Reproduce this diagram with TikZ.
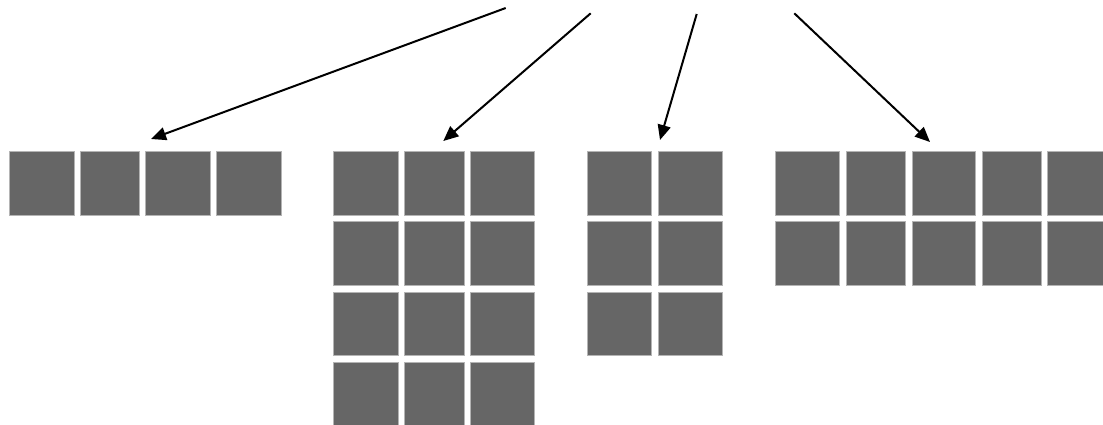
\documentclass[tikz,border=0pt]{standalone}
\usetikzlibrary{arrows.meta}
\definecolor{cellfill}{HTML}{666666}
\definecolor{celledge}{HTML}{B4B4B4}
\newcommand{\mycell}[5]{%
  \node[cellbox, minimum width={#4-#2-0.8}, minimum height={#5-#3-0.8}] (#1) at ({(#2+#4)/2},{(#3+#5)/2}) {};}
\begin{document}
\begin{tikzpicture}[x=1pt,y=-1pt,
  cellbox/.style={draw=celledge, fill=cellfill, line width=0.8pt, inner sep=0pt, outer sep=0pt, rectangle},
  arr/.style={line width=2pt, -{Triangle[length=15pt,width=13pt]}}]
\useasboundingbox (0,0) rectangle (1103,425);
\begin{scope}
\clip (0,0) rectangle (1103,425);
% group A
\mycell{a1}{9.3}{151.3}{74.3}{216}
\mycell{a2}{80}{151.3}{140}{216}
\mycell{a3}{145.3}{151.3}{210.7}{216}
\mycell{a4}{216}{151.3}{281.3}{216}
% group B
\foreach \r/\ya/\yb in {1/151.3/216, 2/221.3/285.7, 3/291.7/356, 4/361.7/427}{
  \mycell{b\r1}{333.3}{\ya}{398.7}{\yb}
  \mycell{b\r2}{404.3}{\ya}{464.3}{\yb}
  \mycell{b\r3}{469.7}{\ya}{534.7}{\yb}
}
% group C
\foreach \r/\ya/\yb in {1/151.3/216, 2/221.3/285.7, 3/291.7/356}{
  \mycell{c\r1}{587.3}{\ya}{652}{\yb}
  \mycell{c\r2}{657.7}{\ya}{722.7}{\yb}
}
% group D
\foreach \r/\ya/\yb in {1/151.3/216, 2/221.3/285.7}{
  \mycell{d\r1}{775.3}{\ya}{840}{\yb}
  \mycell{d\r2}{846}{\ya}{905.7}{\yb}
  \mycell{d\r3}{911.7}{\ya}{976}{\yb}
  \mycell{d\r4}{982}{\ya}{1042}{\yb}
  \mycell{d\r5}{1047.3}{\ya}{1112}{\yb}
}
\end{scope}
% arrows
\coordinate (s1) at (505.7,8);
\coordinate (s2) at (590.7,13.3);
\coordinate (s3) at (696.7,14);
\coordinate (s4) at (794.3,13.3);
\coordinate (t1) at (151,139);
\coordinate (t2) at (443.3,141);
\coordinate (t3) at (660,140);
\coordinate (t4) at (930,142);
\draw[arr] (s1) -- (t1);
\draw[arr] (s2) -- (t2);
\draw[arr] (s3) -- (t3);
\draw[arr] (s4) -- (t4);
\end{tikzpicture}
\end{document}
